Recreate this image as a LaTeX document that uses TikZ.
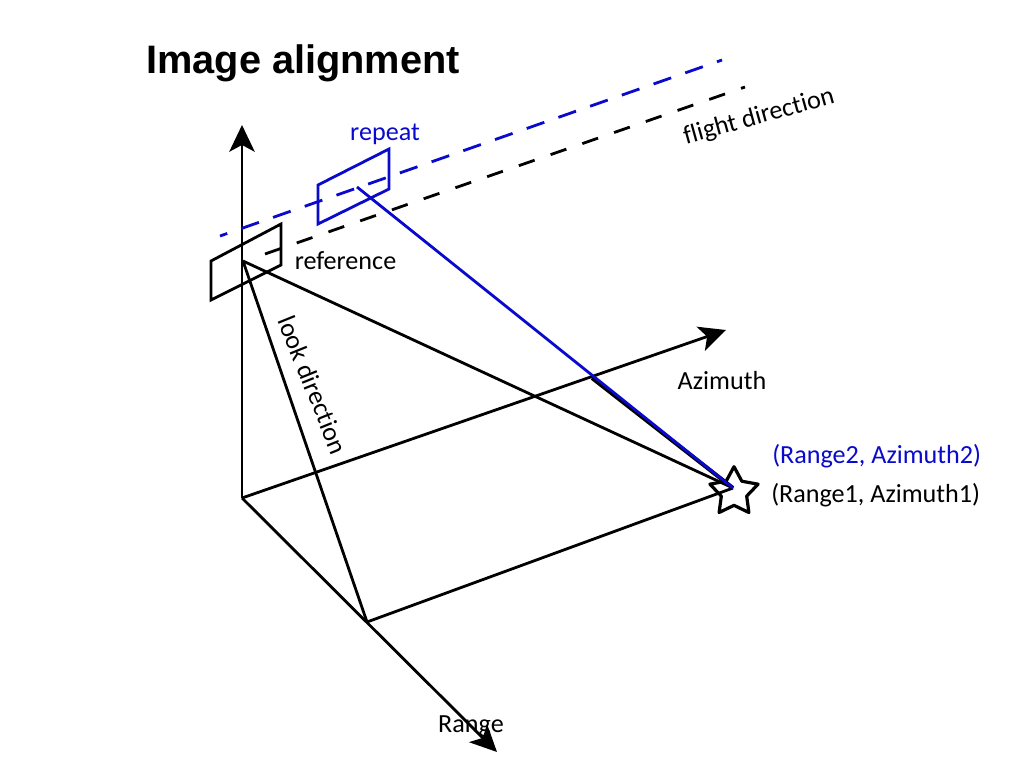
\documentclass[tikz,border=0pt]{standalone}
\usepackage{fontspec}
\setmainfont{Carlito}[Ligatures=NoCommon]
\newfontfamily\titlefont{Liberation Sans}
\usetikzlibrary{arrows.meta,shapes.geometric}
\definecolor{rblue}{RGB}{10,10,205}
\tikzset{
  px/.style={x=0.75pt,y=-0.75pt},
  ln/.style={line width=2.1pt,black},
  bl/.style={line width=2.1pt,rblue},
  axis/.style={ln,-{Stealth[length=20pt,width=19pt,inset=5pt]}},
  dashk/.style={dash pattern=on 12.5pt off 12.7pt},
  dashb/.style={dash pattern=on 14pt off 11.2pt,dash phase=8.25pt},
  lab/.style={font=\fontsize{19.6}{22}\selectfont,inner sep=0pt,text=black},
  labb/.style={lab,text=rblue},
}
\begin{document}
\begin{tikzpicture}[px]
\useasboundingbox (0,0) rectangle (1024,768);
\fill[white] (0,0) rectangle (1024,768);
\coordinate (O) at (242,498);
\coordinate (up) at (242,125);
\coordinate (az) at (726,330);
\coordinate (rg) at (497,752);
\coordinate (foot) at (367,622);
\coordinate (sat1) at (243,261);
\coordinate (sat2) at (357,187);
\coordinate (tgt) at (733,488);
\coordinate (split) at (592,378);
\coordinate (f1a) at (265,254);
\coordinate (f1b) at (745,87);
\coordinate (f2a) at (220,236);
\coordinate (f2b) at (722,60);
\coordinate (p1) at (211,261);
\coordinate (p2) at (281,224);
\coordinate (p3) at (281,265);
\coordinate (p4) at (211,300);
\coordinate (q1) at (318,185);
\coordinate (q2) at (389,149);
\coordinate (q3) at (389,189);
\coordinate (q4) at (318,224);
\node[star,star points=5,star point ratio=1.9,minimum size=38pt,inner sep=0pt,draw=black,line width=2.4pt,line join=round,fill=white] (st) at (734,492) {};
\draw[axis] (O) -- (up);
\draw[axis] (O) -- (az);
\draw[axis] (O) -- (rg);
\draw[ln] (foot) -- (tgt);
\draw[ln] (sat1) -- (foot);
\draw[ln] (sat1) -- (tgt);
\draw[ln,line width=3pt] (split) -- (tgt);
\draw[ln,dashk] (f1a) -- (f1b);
\draw[bl,dashb] (f2a) -- (f2b);
\draw[ln,line join=miter] (p1) -- (p2) -- (p3) -- (p4) -- cycle;
\draw[bl,line join=miter] (q1) -- (q2) -- (q3) -- (q4) -- cycle;
\draw[bl] (sat2) -- (tgt);
\node[anchor=west,inner sep=0pt,font=\titlefont\bfseries\fontsize{29.8}{32}\selectfont] (title) at (146,63) {Image alignment};
\node[labb] (lrepeat) at (385,134) {repeat};
\node[lab] (lref) at (345.5,261) {reference};
\node[lab,rotate=15.5] (lflight) at (759,117) {flight direction};
\node[lab,rotate=-68] (llook) at (313,385) {look direction};
\node[lab] (laz) at (722,381) {Azimuth};
\node[lab] (lrg) at (471,726) {Range};
\node[labb,anchor=west] (l2) at (772,456) {(Range2, Azimuth2)};
\node[lab,anchor=west] (l1) at (771,495) {(Range1, Azimuth1)};
\end{tikzpicture}
\end{document}
